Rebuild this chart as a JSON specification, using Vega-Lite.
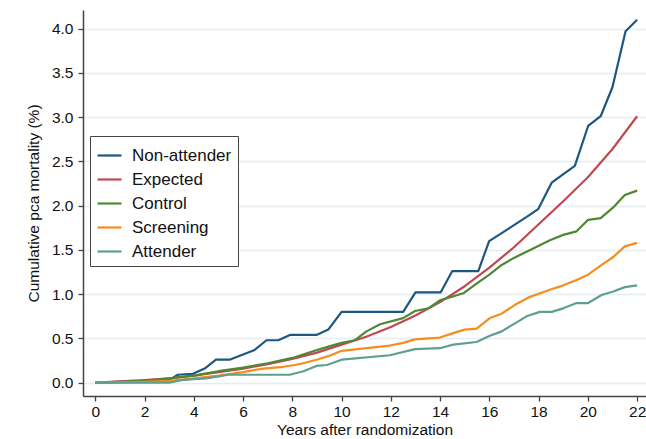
{
  "$schema": "https://vega.github.io/schema/vega-lite/v6.json",
  "width": 563,
  "height": 386,
  "autosize": {"type": "none"},
  "padding": {"left": 83, "top": 10, "right": 0, "bottom": 43},
  "background": "white",
  "config": {
    "view": {"stroke": null},
    "font": "Liberation Sans",
    "axis": {
      "domainColor": "#444444",
      "domainWidth": 1.5,
      "tickColor": "#444444",
      "tickWidth": 1.3,
      "tickSize": 5,
      "labelColor": "#111111",
      "titleColor": "#111111",
      "labelFont": "Liberation Sans",
      "titleFont": "Liberation Sans",
      "labelFontSize": 15.5,
      "titleFontSize": 15.5,
      "titleFontWeight": "normal"
    }
  },
  "datasets": {
    "curves": [
      {"group": "Non-attender", "year": 0, "value": 0},
      {"group": "Non-attender", "year": 1, "value": 0.01},
      {"group": "Non-attender", "year": 2, "value": 0.02},
      {"group": "Non-attender", "year": 3, "value": 0.03},
      {"group": "Non-attender", "year": 3.35, "value": 0.09},
      {"group": "Non-attender", "year": 3.96, "value": 0.10},
      {"group": "Non-attender", "year": 4.44, "value": 0.16},
      {"group": "Non-attender", "year": 4.9, "value": 0.26},
      {"group": "Non-attender", "year": 5.45, "value": 0.26},
      {"group": "Non-attender", "year": 5.92, "value": 0.31},
      {"group": "Non-attender", "year": 6.47, "value": 0.37},
      {"group": "Non-attender", "year": 6.95, "value": 0.48},
      {"group": "Non-attender", "year": 7.43, "value": 0.48},
      {"group": "Non-attender", "year": 7.9, "value": 0.54},
      {"group": "Non-attender", "year": 8.98, "value": 0.54},
      {"group": "Non-attender", "year": 9.46, "value": 0.6},
      {"group": "Non-attender", "year": 10.0, "value": 0.8},
      {"group": "Non-attender", "year": 12.5, "value": 0.8},
      {"group": "Non-attender", "year": 13.0, "value": 1.02},
      {"group": "Non-attender", "year": 14.02, "value": 1.02},
      {"group": "Non-attender", "year": 14.49, "value": 1.26},
      {"group": "Non-attender", "year": 15.55, "value": 1.26},
      {"group": "Non-attender", "year": 15.99, "value": 1.6},
      {"group": "Non-attender", "year": 16.5, "value": 1.69},
      {"group": "Non-attender", "year": 17.0, "value": 1.78},
      {"group": "Non-attender", "year": 17.5, "value": 1.87},
      {"group": "Non-attender", "year": 17.98, "value": 1.96},
      {"group": "Non-attender", "year": 18.53, "value": 2.26},
      {"group": "Non-attender", "year": 19.47, "value": 2.45},
      {"group": "Non-attender", "year": 20.01, "value": 2.9},
      {"group": "Non-attender", "year": 20.52, "value": 3.01},
      {"group": "Non-attender", "year": 21.0, "value": 3.34},
      {"group": "Non-attender", "year": 21.53, "value": 3.97},
      {"group": "Non-attender", "year": 22.0, "value": 4.1},

      {"group": "Expected", "year": 0, "value": 0},
      {"group": "Expected", "year": 1, "value": 0.015},
      {"group": "Expected", "year": 2, "value": 0.03},
      {"group": "Expected", "year": 3, "value": 0.05},
      {"group": "Expected", "year": 4, "value": 0.08},
      {"group": "Expected", "year": 5, "value": 0.12},
      {"group": "Expected", "year": 6, "value": 0.16},
      {"group": "Expected", "year": 7, "value": 0.21},
      {"group": "Expected", "year": 8, "value": 0.27},
      {"group": "Expected", "year": 9, "value": 0.34},
      {"group": "Expected", "year": 10, "value": 0.43},
      {"group": "Expected", "year": 11, "value": 0.52},
      {"group": "Expected", "year": 12, "value": 0.63},
      {"group": "Expected", "year": 13, "value": 0.76},
      {"group": "Expected", "year": 14, "value": 0.91},
      {"group": "Expected", "year": 15, "value": 1.09},
      {"group": "Expected", "year": 16, "value": 1.3},
      {"group": "Expected", "year": 17, "value": 1.53},
      {"group": "Expected", "year": 18, "value": 1.79},
      {"group": "Expected", "year": 19, "value": 2.05},
      {"group": "Expected", "year": 20, "value": 2.32},
      {"group": "Expected", "year": 21, "value": 2.64},
      {"group": "Expected", "year": 22, "value": 3.01},

      {"group": "Control", "year": 0, "value": 0},
      {"group": "Control", "year": 1, "value": 0.01},
      {"group": "Control", "year": 2, "value": 0.02},
      {"group": "Control", "year": 3, "value": 0.05},
      {"group": "Control", "year": 4, "value": 0.08},
      {"group": "Control", "year": 5, "value": 0.13},
      {"group": "Control", "year": 6, "value": 0.17},
      {"group": "Control", "year": 7, "value": 0.22},
      {"group": "Control", "year": 8, "value": 0.28},
      {"group": "Control", "year": 9, "value": 0.37},
      {"group": "Control", "year": 9.5, "value": 0.41},
      {"group": "Control", "year": 10.0, "value": 0.45},
      {"group": "Control", "year": 10.54, "value": 0.48},
      {"group": "Control", "year": 11.01, "value": 0.58},
      {"group": "Control", "year": 11.56, "value": 0.66},
      {"group": "Control", "year": 12.5, "value": 0.73},
      {"group": "Control", "year": 12.98, "value": 0.81},
      {"group": "Control", "year": 13.52, "value": 0.84},
      {"group": "Control", "year": 13.99, "value": 0.93},
      {"group": "Control", "year": 14.94, "value": 1.01},
      {"group": "Control", "year": 15.48, "value": 1.12},
      {"group": "Control", "year": 16.0, "value": 1.22},
      {"group": "Control", "year": 16.5, "value": 1.33},
      {"group": "Control", "year": 17.0, "value": 1.41},
      {"group": "Control", "year": 17.51, "value": 1.48},
      {"group": "Control", "year": 18.46, "value": 1.61},
      {"group": "Control", "year": 19.0, "value": 1.67},
      {"group": "Control", "year": 19.54, "value": 1.71},
      {"group": "Control", "year": 20.01, "value": 1.84},
      {"group": "Control", "year": 20.52, "value": 1.86},
      {"group": "Control", "year": 21.03, "value": 1.98},
      {"group": "Control", "year": 21.5, "value": 2.12},
      {"group": "Control", "year": 22.0, "value": 2.17},

      {"group": "Screening", "year": 0, "value": 0},
      {"group": "Screening", "year": 1, "value": 0.005},
      {"group": "Screening", "year": 2, "value": 0.01},
      {"group": "Screening", "year": 3, "value": 0.02},
      {"group": "Screening", "year": 4, "value": 0.05},
      {"group": "Screening", "year": 5, "value": 0.08},
      {"group": "Screening", "year": 6, "value": 0.12},
      {"group": "Screening", "year": 6.82, "value": 0.16},
      {"group": "Screening", "year": 7.63, "value": 0.18},
      {"group": "Screening", "year": 8.1, "value": 0.2},
      {"group": "Screening", "year": 8.44, "value": 0.22},
      {"group": "Screening", "year": 8.98, "value": 0.26},
      {"group": "Screening", "year": 9.46, "value": 0.3},
      {"group": "Screening", "year": 10.0, "value": 0.36},
      {"group": "Screening", "year": 11.96, "value": 0.42},
      {"group": "Screening", "year": 12.5, "value": 0.45},
      {"group": "Screening", "year": 12.98, "value": 0.49},
      {"group": "Screening", "year": 13.99, "value": 0.51},
      {"group": "Screening", "year": 14.53, "value": 0.56},
      {"group": "Screening", "year": 15.0, "value": 0.6},
      {"group": "Screening", "year": 15.48, "value": 0.61},
      {"group": "Screening", "year": 16.02, "value": 0.73},
      {"group": "Screening", "year": 16.5, "value": 0.78},
      {"group": "Screening", "year": 17.04, "value": 0.88},
      {"group": "Screening", "year": 17.65, "value": 0.97},
      {"group": "Screening", "year": 18.46, "value": 1.05},
      {"group": "Screening", "year": 19.0, "value": 1.1},
      {"group": "Screening", "year": 19.54, "value": 1.16},
      {"group": "Screening", "year": 20.01, "value": 1.22},
      {"group": "Screening", "year": 20.56, "value": 1.33},
      {"group": "Screening", "year": 21.03, "value": 1.42},
      {"group": "Screening", "year": 21.5, "value": 1.54},
      {"group": "Screening", "year": 22.0, "value": 1.58},

      {"group": "Attender", "year": 0, "value": 0},
      {"group": "Attender", "year": 3.0, "value": 0},
      {"group": "Attender", "year": 3.5, "value": 0.03},
      {"group": "Attender", "year": 4.0, "value": 0.04},
      {"group": "Attender", "year": 4.5, "value": 0.05},
      {"group": "Attender", "year": 5.0, "value": 0.07},
      {"group": "Attender", "year": 5.4, "value": 0.09},
      {"group": "Attender", "year": 7.9, "value": 0.09},
      {"group": "Attender", "year": 8.45, "value": 0.13},
      {"group": "Attender", "year": 8.98, "value": 0.19},
      {"group": "Attender", "year": 9.4, "value": 0.2},
      {"group": "Attender", "year": 10.0, "value": 0.26},
      {"group": "Attender", "year": 11.96, "value": 0.31},
      {"group": "Attender", "year": 12.98, "value": 0.38},
      {"group": "Attender", "year": 13.99, "value": 0.39},
      {"group": "Attender", "year": 14.53, "value": 0.43},
      {"group": "Attender", "year": 15.48, "value": 0.46},
      {"group": "Attender", "year": 16.02, "value": 0.53},
      {"group": "Attender", "year": 16.5, "value": 0.58},
      {"group": "Attender", "year": 17.04, "value": 0.67},
      {"group": "Attender", "year": 17.51, "value": 0.75},
      {"group": "Attender", "year": 18.05, "value": 0.8},
      {"group": "Attender", "year": 18.53, "value": 0.8},
      {"group": "Attender", "year": 19.0, "value": 0.84},
      {"group": "Attender", "year": 19.54, "value": 0.9},
      {"group": "Attender", "year": 20.01, "value": 0.9},
      {"group": "Attender", "year": 20.56, "value": 0.99},
      {"group": "Attender", "year": 21.03, "value": 1.03},
      {"group": "Attender", "year": 21.5, "value": 1.08},
      {"group": "Attender", "year": 22.0, "value": 1.1}
    ]
  },
  "data": {"name": "curves"},
  "mark": {"type": "line", "strokeWidth": 2.2, "strokeJoin": "round", "clip": true},
  "encoding": {
    "x": {
      "field": "year",
      "type": "quantitative",
      "title": "Years after randomization",
      "scale": {"domain": [-0.5, 22.36], "nice": false, "zero": false},
      "axis": {
        "values": [0, 2, 4, 6, 8, 10, 12, 14, 16, 18, 20, 22],
        "grid": false,
        "labelPadding": 3,
        "titlePadding": 3,
        "labelFlush": false
      }
    },
    "y": {
      "field": "value",
      "type": "quantitative",
      "title": "Cumulative pca mortality (%)",
      "scale": {"domain": [-0.15, 4.21], "nice": false, "zero": false},
      "axis": {
        "values": [0, 0.5, 1, 1.5, 2, 2.5, 3, 3.5, 4],
        "format": ".1f",
        "grid": true,
        "gridColor": "#e4edef",
        "gridWidth": 1.3,
        "labelPadding": 5,
        "titlePadding": 10,
        "labelFlush": false
      }
    },
    "color": {
      "field": "group",
      "type": "nominal",
      "scale": {
        "domain": ["Non-attender", "Expected", "Control", "Screening", "Attender"],
        "range": ["#1d5781", "#c14853", "#4e8832", "#f58d20", "#5e9f93"]
      },
      "legend": {
        "orient": "none",
        "legendX": 7,
        "legendY": 126,
        "title": null,
        "symbolType": "stroke",
        "symbolSize": 576,
        "symbolStrokeWidth": 2.2,
        "labelFontSize": 17,
        "labelFont": "Liberation Sans",
        "labelColor": "#111111",
        "labelOffset": 9,
        "rowPadding": 2,
        "padding": 6,
        "strokeColor": "#444444",
        "fillColor": "white",
        "cornerRadius": 0
      }
    }
  }
}
